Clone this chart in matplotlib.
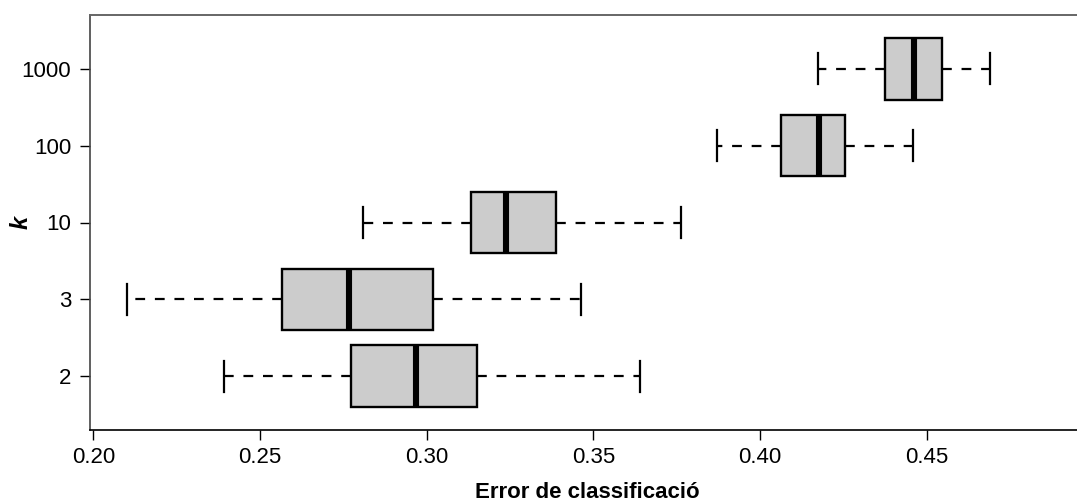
import matplotlib
matplotlib.use("Agg")
import matplotlib.pyplot as plt

# five-number summaries per k (whisker low, q1, median, q3, whisker high)
k_labels = ["2", "3", "10", "100", "1000"]
whisker_low = [0.2391, 0.2101, 0.2808, 0.3872, 0.4173]
q1 = [0.2772, 0.2567, 0.3134, 0.4064, 0.4374]
medians = [0.2968, 0.2767, 0.3239, 0.4176, 0.4462]
q3 = [0.3151, 0.3018, 0.3389, 0.4254, 0.4546]
whisker_high = [0.3641, 0.3464, 0.3762, 0.4459, 0.4691]
x_ticks = [0.20, 0.25, 0.30, 0.35, 0.40, 0.45]

plt.rcParams["font.family"] = ["Liberation Sans", "DejaVu Sans"]

stats = [
    {"whislo": lo, "q1": a, "med": m, "q3": b, "whishi": hi, "fliers": [], "label": lab}
    for lo, a, m, b, hi, lab in zip(whisker_low, q1, medians, q3, whisker_high, k_labels)
]

W, H = 1077, 503
fig = plt.figure(figsize=(W / 100, H / 100), dpi=100)
ax = fig.add_axes([90 / W, 1 - 430 / H, 1 - 90 / W, (430 - 15) / H])

positions = list(range(1, len(stats) + 1))
ax.bxp(
    stats,
    positions=positions,
    orientation="horizontal",
    widths=0.8,
    capwidths=0.4,
    patch_artist=True,
    showfliers=False,
    boxprops=dict(facecolor="#cccccc", edgecolor="black", linewidth=1.7),
    medianprops=dict(color="black", linewidth=4.4, solid_capstyle="butt"),
    whiskerprops=dict(color="black", linewidth=1.6, linestyle=(0, (4.4, 4.4))),
    capprops=dict(color="black", linewidth=1.6),
)

ax.set_xlim(0.19901, 0.49512)
ax.set_ylim(0.3, 5.7)
ax.set_xticks(x_ticks)
ax.set_xticklabels([f"{t:.2f}" for t in x_ticks])
ax.set_yticks(positions)
ax.set_yticklabels(k_labels)
ax.tick_params(axis="both", labelsize=16, length=7.5, width=1, color="black")
ax.tick_params(axis="x", pad=5)
ax.tick_params(axis="y", pad=6)

ax.spines["right"].set_visible(False)
ax.spines["top"].set_color("#666666")
ax.spines["top"].set_linewidth(1.4)
ax.spines["left"].set_color("#444444")
ax.spines["left"].set_linewidth(1.2)
ax.spines["bottom"].set_color("black")
ax.spines["bottom"].set_linewidth(1.2)

# axis titles placed in figure pixels
fig.text(587 / W, 1 - 493 / H, "Error de classificació", fontsize=16,
         fontweight="bold", ha="center", va="center")
fig.text(21 / W, 1 - 222 / H, "k", fontsize=17, fontweight="bold",
         fontstyle="italic", rotation=90, ha="center", va="center")

fig.savefig("out.png", dpi=100)
